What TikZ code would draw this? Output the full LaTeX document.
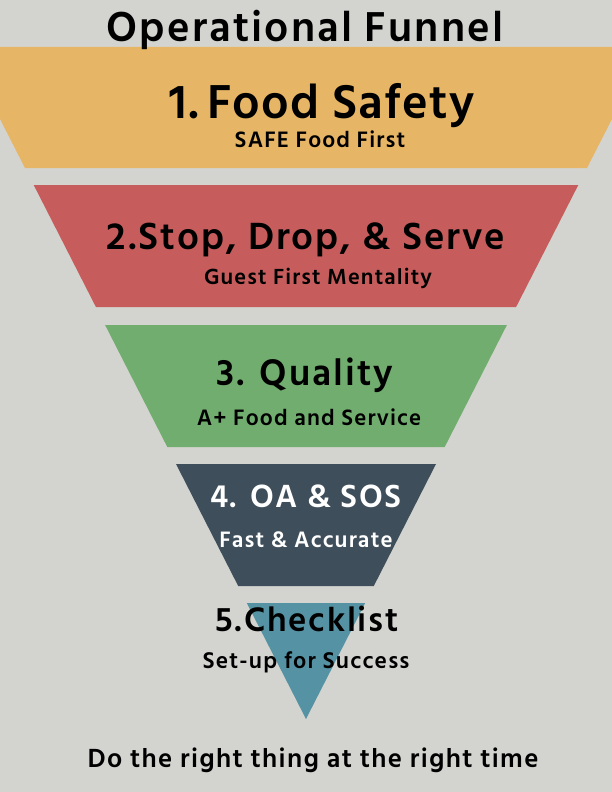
\documentclass[tikz,border=0pt]{standalone}
\usepackage{fontspec}
\setmainfont{Hind Siliguri}[LetterSpace=5]
\usetikzlibrary{positioning}

\definecolor{bggray}{RGB}{211,212,207}
\definecolor{safeorange}{RGB}{230,181,102}
\definecolor{servered}{RGB}{198,93,92}
\definecolor{qualgreen}{RGB}{113,173,110}
\definecolor{oaslate}{RGB}{63,78,91}
\definecolor{checkblue}{RGB}{85,146,164}

\begin{document}
\begin{tikzpicture}[x=1bp, y=-1bp,
    head/.style={font=\bfseries\fontsize{#1}{#1}\selectfont, anchor=base, inner sep=0pt},
    sub/.style={font=\bfseries\fontsize{#1}{#1}\selectfont, anchor=base, inner sep=0pt}]
        % background and page size
        \fill[bggray] (0,0) rectangle (612,792);
        \useasboundingbox (0,0) rectangle (612,792);

        % funnel bands
        \fill[safeorange] (0,47) -- (612,47) -- (612,119) -- (587,168) -- (25,168) -- (0,119) -- cycle;
        \fill[servered] (33.7,185) -- (578.3,185) -- (516.1,307) -- (95.9,307) -- cycle;
        \fill[qualgreen] (105.1,325) -- (506.9,325) -- (444.7,447) -- (167.3,447) -- cycle;
        \fill[oaslate] (176,464) -- (436,464) -- (373.8,586) -- (238.2,586) -- cycle;
        \fill[checkblue] (246.8,603) -- (365.2,603) -- (306,719) -- cycle;

        % texts
        \node (title) [head=43] at (305,42) {Operational Funnel};
        \node (safety) [head=49] at (322,118) {\addfontfeature{LetterSpace=2.5}1.\,Food Safety};
        \node (safetysub) [sub=23] at (320,147) {SAFE Food First};
        \node (serve) [head=39] at (306,249) {2.Stop, Drop, \& Serve};
        \node (servesub) [sub=22.5] at (318,284) {Guest First Mentality};
        \node (quality) [head=38] at (305,385) {3. Quality};
        \node (qualitysub) [sub=23] at (309,425) {A+ Food and Service};
        \node (oasos) [head=33, text=white] at (306,507) {4. OA \& SOS};
        \node (oasossub) [sub=23, text=white] at (306,547) {Fast \& Accurate};
        \node (check) [head=35] at (307,631) {5.Checklist};
        \node (checksub) [sub=23.5] at (306,668) {Set-up for Success};
        \node (motto) [sub=27] at (313,767) {Do the right thing at the right time};
    \end{tikzpicture}
\end{document}
